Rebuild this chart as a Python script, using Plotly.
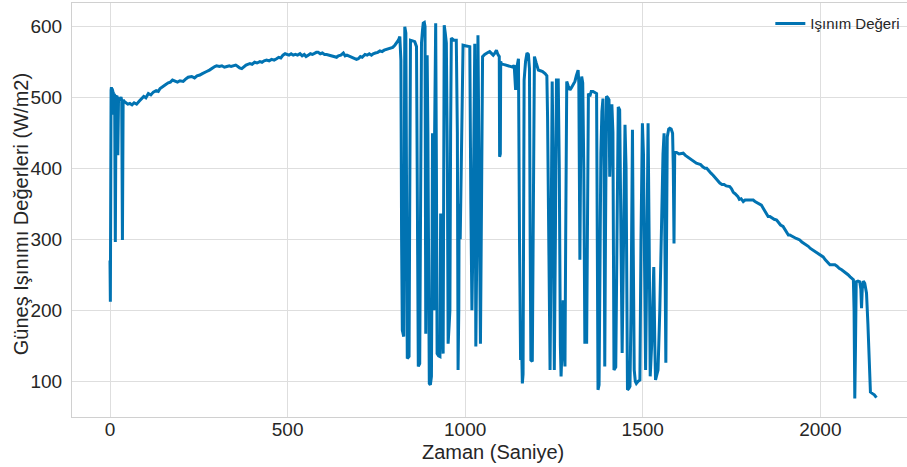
import plotly.graph_objects as go

# Zaman (s) ve ışınım (W/m2) ölçümleri
zaman = [
    0, 1, 3, 4, 5, 6, 8, 10, 13, 15, 17, 20, 22, 24, 28, 31, 33, 35, 37, 40,
    45, 50, 56, 62, 68, 75, 82, 89, 95, 101, 108, 115, 122, 130, 136, 141, 148, 155, 164, 170,
    176, 183, 190, 197, 206, 212, 220, 230, 238, 245, 253, 260, 266, 272, 280, 288, 295, 300, 308, 315,
    322, 329, 336, 341, 347, 354, 360, 365, 371, 377, 383, 388, 394, 400, 407, 414, 422, 428, 434, 441,
    448, 455, 462, 469, 475, 481, 487, 493, 498, 504, 510, 516, 522, 528, 535, 541, 547, 552, 558, 564,
    570, 576, 581, 586, 592, 598, 604, 610, 616, 622, 628, 633, 638, 643, 650, 657, 662, 667, 672, 676,
    682, 688, 694, 699, 705, 710, 718, 724, 730, 736, 741, 747, 754, 760, 766, 772, 778, 784, 790, 796,
    802, 808, 812, 816,
    819, 821, 823, 827, 829, 830, 833, 835, 837, 842, 844, 846, 852, 858, 863, 865, 868, 872, 875, 877,
    880, 882, 885, 887, 889, 891, 893, 895, 897, 899, 902, 905, 907, 908, 910, 912, 914, 917, 919, 921,
    925, 929, 931, 934, 938, 940, 941, 944, 947, 950, 952, 955, 957, 959, 961, 968, 975, 978, 980, 982,
    983, 986, 990, 992, 994, 1003, 1010, 1013, 1016, 1019, 1022, 1025, 1027, 1029, 1030, 1033, 1036, 1039, 1041, 1043,
    1046, 1049, 1055, 1060, 1065, 1069, 1074, 1079, 1084, 1088, 1092, 1096, 1097, 1099, 1100, 1102, 1108, 1116, 1123, 1130,
    1135, 1138, 1142, 1145, 1148,
    1150, 1153, 1156, 1159, 1161, 1163, 1165, 1166, 1170, 1174, 1178, 1181, 1183, 1185, 1189, 1192, 1195, 1200, 1206, 1212,
    1218, 1225, 1230, 1232, 1235, 1239, 1242, 1245, 1248, 1251, 1254, 1257, 1262, 1265, 1268, 1270, 1273, 1276, 1279, 1281,
    1283, 1286, 1290, 1295, 1300, 1305, 1309, 1313, 1318, 1320, 1323, 1326, 1328, 1331, 1334, 1337, 1340, 1342, 1345, 1347,
    1351, 1355, 1360, 1365, 1370, 1372, 1374, 1377, 1380, 1382, 1385, 1388, 1391, 1393, 1395, 1398, 1402, 1405, 1407, 1410,
    1413, 1416, 1419, 1424, 1428, 1431, 1435, 1438, 1442, 1446, 1450, 1453, 1457, 1461, 1464, 1467, 1471, 1473, 1476, 1479,
    1482, 1487, 1492, 1495, 1499, 1502, 1504, 1506, 1508, 1512, 1515, 1518, 1521, 1525, 1528, 1531, 1534, 1536, 1540, 1543,
    1548, 1553, 1557, 1560, 1562, 1565, 1567, 1569, 1573, 1576, 1580, 1584, 1586, 1588, 1590, 1593,
    1596, 1602, 1608, 1614, 1620, 1626, 1632, 1638, 1644, 1651, 1657, 1663, 1669, 1675, 1680, 1686, 1692, 1698, 1704, 1710,
    1717, 1723, 1729, 1735, 1740, 1745, 1750, 1755, 1760, 1764, 1768, 1772, 1777, 1783, 1788, 1794, 1800, 1806, 1811, 1816,
    1822, 1828, 1834, 1840, 1846, 1853, 1858, 1864, 1870, 1877, 1882, 1888, 1895, 1900, 1906, 1910, 1914, 1920, 1926, 1932,
    1937, 1942, 1948, 1954, 1961, 1966, 1972, 1978, 1985, 1990, 1996, 2002, 2008, 2014, 2020, 2027, 2034, 2041, 2047, 2053,
    2060, 2066, 2072, 2078, 2084, 2090, 2093, 2095, 2097, 2099, 2101, 2106, 2111, 2114, 2116, 2118, 2121, 2125, 2130, 2134,
    2138, 2141, 2146, 2152, 2158,
]

isinim = [
    270, 212, 510, 514, 475, 512, 508, 505, 503, 296, 500, 502, 418, 498, 497, 500, 495, 299, 496, 494,
    492, 490, 491, 489, 492, 490, 494, 498, 501, 499, 505, 503, 507, 509, 508, 512, 514, 517, 520, 521,
    524, 523, 521, 523, 522, 525, 528, 529, 527, 530, 531, 533, 535, 536, 538, 541, 543, 544, 543, 544,
    542, 543, 544, 543, 544, 545, 543, 541, 540, 543, 545, 546, 547, 546, 549, 548, 550, 549, 551, 552,
    551, 553, 552, 554, 556, 555, 559, 561, 560, 559, 561, 559, 560, 559, 561, 558, 560, 557, 559, 561,
    560, 562, 563, 563, 561, 562, 560, 560, 559, 558, 557, 556, 556, 558, 559, 562, 558, 559, 558, 557,
    556, 555, 553, 554, 557, 556, 560, 559, 561, 559, 561, 562, 563, 565, 564, 566, 567, 567, 569, 570,
    573, 577, 580, 585,
    552, 300, 172, 163, 400, 599, 590, 300, 132, 135, 450, 580, 579, 578, 571, 400, 121, 125, 400, 576,
    595, 604, 605, 599, 167, 300, 559, 450, 200, 97, 95, 107, 300, 449, 250, 200, 450, 604, 400, 139,
    136, 135, 336, 200, 139, 400, 601, 590, 576, 400, 153, 180, 200, 450, 583, 580, 580, 450, 116, 200,
    350, 300, 421, 500, 573, 572, 571, 571, 350, 200, 300, 560, 575, 300, 149, 300, 587, 400, 250, 153,
    350, 557, 560, 561, 563, 564, 562, 559, 562, 566, 560, 557, 416, 420, 550, 547, 546, 545, 544, 543,
    542, 545, 510, 540, 554,
    554, 300, 130, 150, 97, 110, 300, 524, 550, 562, 560, 540, 300, 130, 128, 300, 557, 548, 538, 537,
    536, 533, 530, 472, 300, 116, 300, 522, 400, 116, 300, 524, 524, 400, 150, 107, 150, 214, 140, 121,
    300, 522, 516, 510, 514, 518, 522, 530, 538, 520, 271, 480, 529, 520, 400, 153, 200, 153, 400, 505,
    501, 508, 508, 506, 505, 300, 88, 95, 300, 421, 480, 498, 400, 121, 300, 501, 499, 496, 388, 450,
    490, 450, 116, 120, 300, 486, 482, 300, 140, 300, 461, 400, 88, 90, 93, 200, 454, 300, 116, 100,
    97, 100, 102, 300, 463, 420, 341, 200, 116, 300, 463, 300, 107, 150, 200, 261, 150, 102, 110, 116,
    200, 350, 420, 449, 300, 126, 300, 444, 455, 456, 455, 449, 400, 294, 423, 423,
    422, 420, 421, 421, 418, 416, 413, 412, 409, 407, 406, 405, 402, 400, 400, 396, 393, 390, 386, 382,
    379, 377, 377, 375, 374, 374, 371, 366, 364, 362, 360, 356, 357, 353, 355, 355, 355, 355, 355, 353,
    351, 350, 348, 343, 337, 332, 332, 330, 328, 327, 323, 320, 318, 314, 310, 306, 306, 304, 302, 301,
    300, 299, 296, 294, 292, 290, 287, 285, 282, 280, 278, 276, 275, 271, 268, 264, 264, 264, 262, 259,
    257, 255, 252, 250, 247, 244, 243, 200, 76, 150, 240, 241, 240, 230, 203, 230, 241, 238, 224, 180,
    120, 85, 83, 81, 77,
]

x_ticks = [0, 500, 1000, 1500, 2000]
y_ticks = [100, 200, 300, 400, 500, 600]

font_family = "Liberation Sans, Arial, sans-serif"
text_color = "#262626"
grid_color = "#dedede"

fig = go.Figure(
    go.Scatter(
        x=zaman,
        y=isinim,
        mode="lines",
        name="Işınım Değeri",
        line=dict(color="#0173B2", width=3),
    )
)

fig.update_layout(
    width=907,
    height=467,
    margin=dict(l=72, r=0, t=3, b=50),
    paper_bgcolor="white",
    plot_bgcolor="white",
    font=dict(family=font_family, color=text_color),
    showlegend=True,
    legend=dict(
        x=0.998, y=0.99, xanchor="right", yanchor="top",
        bgcolor="rgba(0,0,0,0)",
        font=dict(size=15, color=text_color, family=font_family),
    ),
    xaxis=dict(
        range=[-107, 2244],
        tickvals=x_ticks,
        showgrid=True, gridcolor=grid_color, gridwidth=1,
        zeroline=False,
        showline=True, linecolor="#d0d0d0", linewidth=1, mirror=True,
        ticks="", ticklabelstandoff=-5,
        tickfont=dict(size=19, color=text_color),
    ),
    yaxis=dict(
        range=[49.8, 632.4],
        tickvals=y_ticks,
        showgrid=True, gridcolor=grid_color, gridwidth=1,
        zeroline=False,
        showline=True, linecolor="#d0d0d0", linewidth=1,
        ticks="", ticklabelstandoff=5,
        tickfont=dict(size=19, color=text_color),
    ),
    annotations=[
        dict(
            text="Zaman (Saniye)", xref="paper", yref="paper",
            x=0.504, y=-0.085, xanchor="center", yanchor="middle",
            showarrow=False, font=dict(size=20, color=text_color),
        ),
        dict(
            text="Güneş Işınımı Değerleri (W/m2)", xref="paper", yref="paper",
            x=-0.061, y=0.49, xanchor="center", yanchor="middle", textangle=-90,
            showarrow=False, font=dict(size=20, color=text_color),
        ),
    ],
)

fig.write_html("out.html")
